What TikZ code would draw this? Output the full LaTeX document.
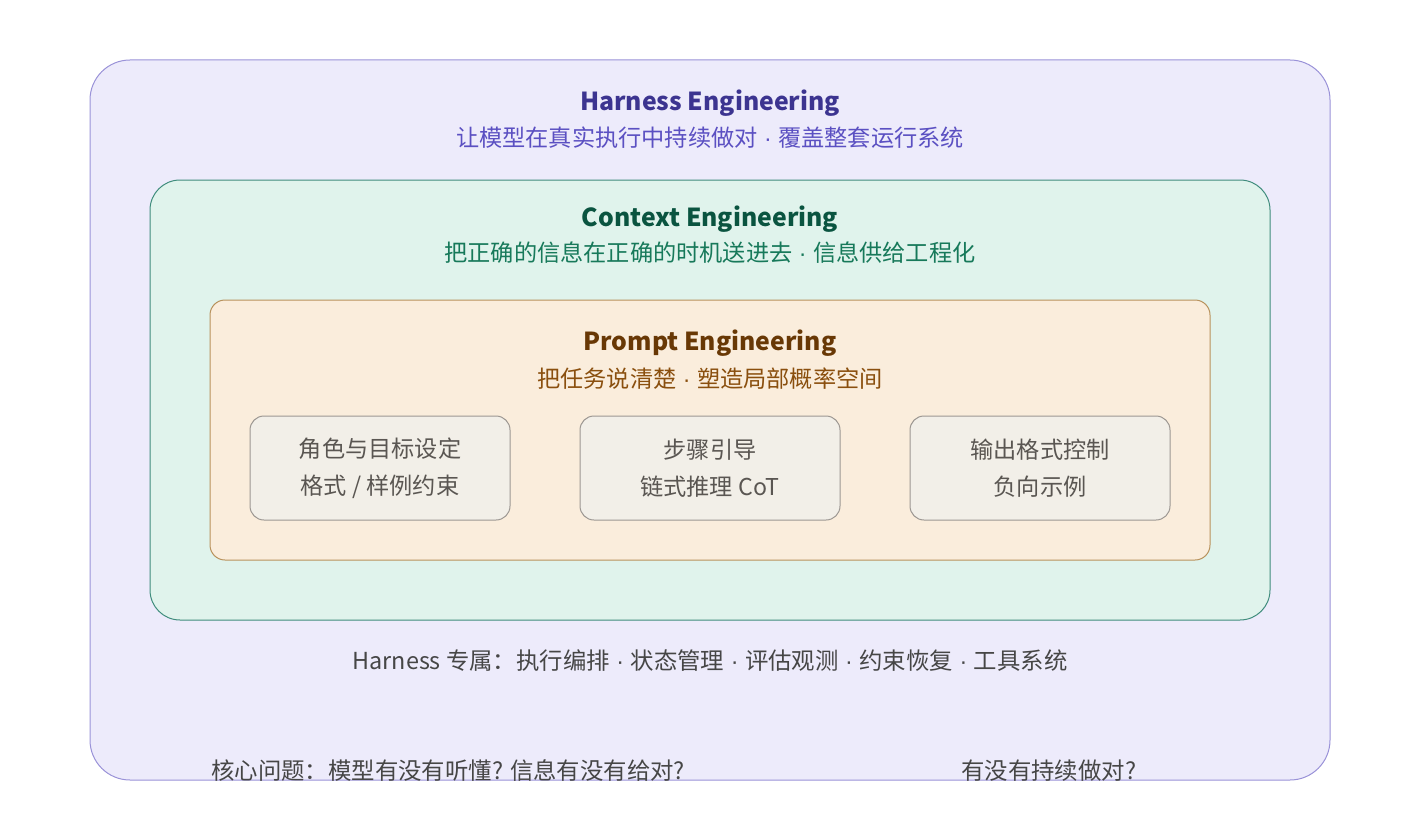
\documentclass[tikz,border=0pt]{standalone}
\usepackage{fontspec}
\setmainfont{Noto Sans CJK SC}
\newfontfamily\dotfont{Liberation Sans}
\newcommand{\sepdot}{\mbox{\dotfont\ ·\ }}
\definecolor{harnessfill}{HTML}{EDEBFB}
\definecolor{harnessline}{HTML}{9A92D8}
\definecolor{harnesstitle}{HTML}{3C3490}
\definecolor{harnesstext}{HTML}{5B50C2}
\definecolor{contextfill}{HTML}{E0F3EC}
\definecolor{contextline}{HTML}{3F8C7C}
\definecolor{contexttitle}{HTML}{0A5440}
\definecolor{contexttext}{HTML}{17795A}
\definecolor{promptfill}{HTML}{FAEDDC}
\definecolor{promptline}{HTML}{B8925C}
\definecolor{prompttitle}{HTML}{683805}
\definecolor{prompttext}{HTML}{8A4F0E}
\definecolor{itemfill}{HTML}{F2EFE8}
\definecolor{itemline}{HTML}{9C9792}
\definecolor{itemtext}{HTML}{5A5652}
\definecolor{notetext}{HTML}{464646}

\tikzset{
  layer/.style={draw, line width=1pt, inner sep=0pt},
  itembox/.style={layer, draw=itemline, fill=itemfill, rounded corners=14,
    minimum width=260, minimum height=104, align=center, text=itemtext,
    font=\fontsize{23.2}{37}\selectfont},
  title/.style={font=\fontsize{24.8}{28}\selectfont\bfseries},
  subtitle/.style={font=\fontsize{23.2}{26}\selectfont},
  note/.style={font=\fontsize{23.4}{26}\selectfont, text=notetext}
}

\begin{document}
\begin{tikzpicture}[x=1pt,y=-1pt]
    \useasboundingbox (0,0) rectangle (1418,840);

    % nested layers
    \node [layer, draw=harnessline, fill=harnessfill, rounded corners=40,
        minimum width=1240, minimum height=720] (harness) at (710,420) {};
    \node [layer, draw=contextline, fill=contextfill, rounded corners=30,
        minimum width=1120, minimum height=440] (context) at (710,400) {};
    \node [layer, draw=promptline, fill=promptfill, rounded corners=15,
        minimum width=1000, minimum height=260] (prompt) at (710,430) {};

    \node [title, text=harnesstitle] (harnessname) at (710,103) {Harness Engineering};
    \node [subtitle, text=harnesstext] (harnessgoal) at (710,138) {让模型在真实执行中持续做对\sepdot 覆盖整套运行系统};

    \node [title, text=contexttitle] (contextname) at (710,219) {Context Engineering};
    \node [subtitle, text=contexttext] (contextgoal) at (710,253) {把正确的信息在正确的时机送进去\sepdot 信息供给工程化};

    \node [title, text=prompttitle] (promptname) at (710,343) {Prompt Engineering};
    \node [subtitle, text=prompttext] (promptgoal) at (710,379) {把任务说清楚\sepdot 塑造局部概率空间};

    % prompt techniques
    \node [itembox] (role) at (380,468) {角色与目标设定\\格式 / 样例约束};
    \node [itembox] (steps) at (710,468) {步骤引导\\链式推理 CoT};
    \node [itembox] (output) at (1040,468) {输出格式控制\\负向示例};

    \node [note] (harnessonly) at (710,661) {Harness 专属：执行编排\sepdot 状态管理\sepdot 评估观测\sepdot 约束恢复\sepdot 工具系统};

    \node [note, anchor=west, inner sep=0pt] (question) at (211,771) {核心问题：模型有没有听懂? 信息有没有给对?};
    \node [note, anchor=west, inner sep=0pt] (questionmore) at (961,771) {有没有持续做对?};
\end{tikzpicture}
\end{document}
